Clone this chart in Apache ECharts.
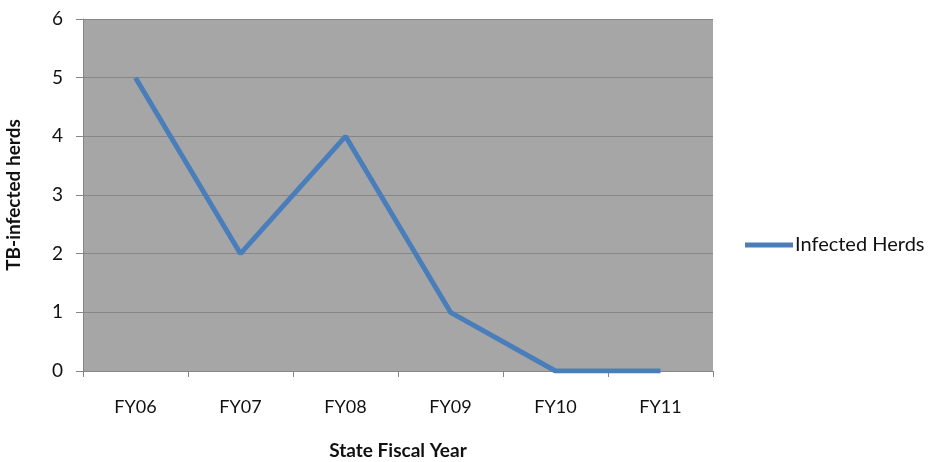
<!DOCTYPE html>
<html>
<head>
<meta charset="utf-8">
<style>
html, body { margin: 0; padding: 0; background: #fff; }
#chart { width: 932px; height: 462px; }
</style>
<script src="https://cdn.jsdelivr.net/npm/echarts@6/dist/echarts.min.js"></script>
</head>
<body>
<div id="chart"></div>
<script>
const years = ['FY06', 'FY07', 'FY08', 'FY09', 'FY10', 'FY11'] // 横坐标
const herds = [5, 2, 4, 1, 0, 0] // 数据
const seriesName = 'Infected Herds'

const font = 'Lato, "Open Sans", sans-serif'
const myChart = echarts.init(document.getElementById('chart'))
const option = {
  animation: false,
  grid: {
    left: 83,
    right: 219,
    top: 19,
    bottom: 91,
    outerBoundsMode: 'none',
    show: true,
    backgroundColor: '#a6a6a6',
    borderWidth: 0
  },
  legend: {
    data: [seriesName],
    left: 740,
    top: 230,
    icon: 'rect',
    itemWidth: 48,
    itemHeight: 5,
    textStyle: { fontFamily: font, fontSize: 20, color: '#111', padding: [0, 0, 0, -3] }
  },
  xAxis: {
    type: 'category',
    data: years,
    boundaryGap: true,
    name: 'State Fiscal Year',
    nameLocation: 'middle',
    nameGap: 70,
    nameTextStyle: { fontFamily: font, fontSize: 19, fontWeight: 'bold', color: '#111' },
    axisLine: { lineStyle: { color: '#868686', width: 1 } },
    axisTick: { show: true, length: 6, lineStyle: { color: '#868686' } },
    axisLabel: { fontFamily: font, fontSize: 18, color: '#111', margin: 27 }
  },
  yAxis: {
    type: 'value',
    min: 0,
    max: 6,
    interval: 1,
    name: 'TB-infected herds',
    nameLocation: 'middle',
    nameRotate: 90,
    nameGap: 60,
    nameTextStyle: { fontFamily: font, fontSize: 19, fontWeight: 'bold', color: '#111' },
    axisLine: { show: true, lineStyle: { color: '#868686', width: 1 } },
    axisTick: { show: true, length: 7, lineStyle: { color: '#868686' } },
    splitLine: { lineStyle: { color: '#868686', width: 1 } },
    axisLabel: { fontFamily: font, fontSize: 19, color: '#111', margin: 20 }
  },
  series: [
    {
      name: seriesName,
      type: 'line',
      data: herds,
      symbol: 'none',
      color: '#4a7ebb',
      lineStyle: { width: 5, color: '#4a7ebb' }
    }
  ]
}
myChart.setOption(option)
</script>
</body>
</html>
